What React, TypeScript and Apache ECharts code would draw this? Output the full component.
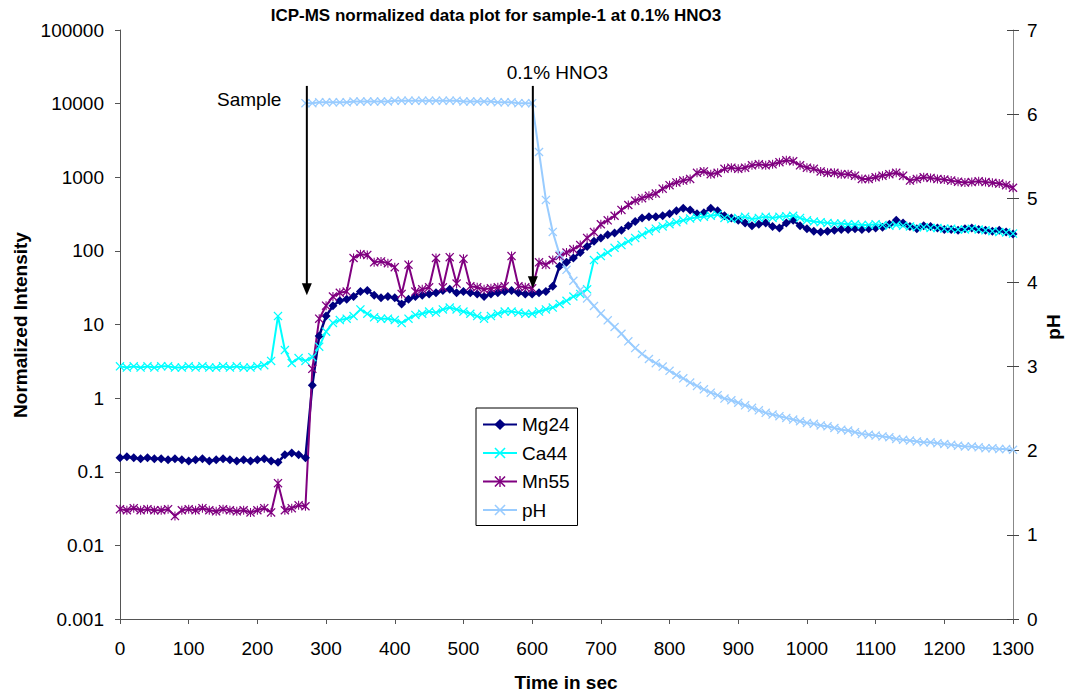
import React, { useEffect, useRef } from "react";
import * as echarts from "echarts";

const TITLE = "ICP-MS normalized data plot for sample-1 at 0.1% HNO3";
const X_NAME = "Time in sec";
const Y_NAME = "Normalized Intensity";
const Y2_NAME = "pH";
const SERIES_NAMES = ["Mg24", "Ca44", "Mn55", "pH"];

const TIMES = [
  0, 10, 20, 30, 40, 50, 60, 70, 80, 90, 100, 110, 120, 130, 140, 150, 160, 170, 180, 190,
  200, 210, 220, 230, 240, 250, 260, 270, 280, 290, 300, 310, 320, 330, 340, 350, 360, 370, 380, 390,
  400, 410, 420, 430, 440, 450, 460, 470, 480, 490, 500, 510, 520, 530, 540, 550, 560, 570, 580, 590,
  600, 610, 620, 630, 640, 650, 660, 670, 680, 690, 700, 710, 720, 730, 740, 750, 760, 770, 780, 790,
  800, 810, 820, 830, 840, 850, 860, 870, 880, 890, 900, 910, 920, 930, 940, 950, 960, 970, 980, 990,
  1000, 1010, 1020, 1030, 1040, 1050, 1060, 1070, 1080, 1090, 1100, 1110, 1120, 1130, 1140, 1150, 1160, 1170, 1180, 1190,
  1200, 1210, 1220, 1230, 1240, 1250, 1260, 1270, 1280, 1290, 1300,
];

const MG24 = [
  0.155, 0.16, 0.155, 0.15, 0.155, 0.15, 0.15, 0.145, 0.15, 0.145, 0.14, 0.145, 0.15, 0.14, 0.145, 0.15, 0.145, 0.14, 0.145, 0.14,
  0.145, 0.15, 0.14, 0.135, 0.17, 0.18, 0.17, 0.155, 1.5, 7, 13, 18, 21, 22, 24, 28, 29, 25, 23, 24,
  23, 19, 22, 24, 25, 26, 27, 29, 30, 27, 28, 27, 26, 24, 26, 27, 28, 29, 27, 26,
  26, 27, 28, 33, 62, 70, 80, 95, 115, 135, 150, 165, 175, 190, 220, 250, 280, 290, 290, 300,
  320, 350, 380, 360, 320, 330, 380, 350, 300, 280, 260, 240, 220, 230, 240, 215, 205, 240, 260, 220,
  200, 185, 180, 185, 190, 195, 195, 200, 195, 200, 205, 210, 230, 260, 240, 215, 200, 220, 215, 205,
  195, 195, 190, 200, 205, 195, 190, 185, 190, 180, 170,
];

const CA44 = [
  2.7, 2.6, 2.7, 2.6, 2.7, 2.6, 2.7, 2.7, 2.6, 2.6, 2.7, 2.6, 2.7, 2.6, 2.6, 2.7, 2.6, 2.7, 2.6, 2.6,
  2.7, 2.8, 3.2, 13, 4.5, 3, 3.5, 3.2, 3.6, 5, 8, 10.5, 11.5, 12, 13, 16, 14, 12.5, 12, 12,
  11.5, 10.5, 12, 13.5, 14, 15, 14.5, 16, 17, 16, 15, 14, 13, 12, 13, 14, 15, 15, 14.5, 14,
  14, 15, 16, 17, 19, 21, 24, 26, 30, 75, 85, 95, 110, 120, 135, 150, 165, 185, 200, 215,
  230, 245, 260, 275, 285, 290, 300, 310, 280, 270, 280, 290, 270, 280, 290, 280, 290, 295, 300, 280,
  260, 250, 245, 240, 235, 235, 230, 230, 225, 225, 230, 225, 220, 225, 220, 215, 210, 210, 205, 205,
  200, 200, 195, 195, 200, 195, 190, 185, 180, 178, 172,
];

const MN55 = [
  0.031, 0.03, 0.032, 0.03, 0.031, 0.03, 0.03, 0.031, 0.025, 0.03, 0.031, 0.03, 0.032, 0.03, 0.029, 0.031, 0.03, 0.029, 0.03, 0.028,
  0.03, 0.032, 0.028, 0.07, 0.03, 0.032, 0.035, 0.034, 2.5, 12, 18, 24, 27, 28, 80, 90, 88, 70, 72, 68,
  60, 26, 65, 28, 30, 32, 80, 32, 82, 36, 78, 33, 32, 30, 31, 32, 33, 85, 33, 32,
  31, 70, 65, 75, 85, 95, 105, 120, 150, 180, 230, 260, 300, 360, 420, 480, 520, 560, 600, 700,
  780, 850, 900, 950, 1150, 1200, 1100, 1150, 1300, 1350, 1300, 1350, 1450, 1500, 1450, 1500, 1600, 1700, 1650, 1450,
  1350, 1300, 1200, 1150, 1150, 1100, 1100, 1050, 950, 950, 1000, 1050, 1100, 1150, 1050, 900, 950, 1000, 980, 950,
  930, 900, 870, 850, 860, 880, 860, 840, 820, 780, 720,
];

const PH = [
  null, null, null, null, null, null, null, null, null, null, null, null, null, null, null, null, null, null, null, null,
  null, null, null, null, null, null, null, 6.13, 6.13, 6.14, 6.14, 6.14, 6.14, 6.14, 6.15, 6.15, 6.15, 6.15, 6.15, 6.15,
  6.16, 6.16, 6.16, 6.16, 6.16, 6.16, 6.16, 6.16, 6.16, 6.16, 6.15, 6.15, 6.15, 6.15, 6.15, 6.14, 6.14, 6.14, 6.13, 6.13,
  6.13, 5.55, 4.98, 4.6, 4.33, 4.15, 4.02, 3.91, 3.81, 3.72, 3.63, 3.55, 3.47, 3.39, 3.3, 3.22, 3.15, 3.09, 3.04, 3.0,
  2.95, 2.9, 2.86, 2.81, 2.77, 2.73, 2.69, 2.66, 2.62, 2.6, 2.57, 2.54, 2.51, 2.48, 2.45, 2.43, 2.41, 2.39, 2.37, 2.35,
  2.33, 2.32, 2.3, 2.29, 2.27, 2.25, 2.24, 2.22, 2.2, 2.19, 2.18, 2.17, 2.16, 2.14, 2.13, 2.12, 2.11, 2.1, 2.1, 2.09,
  2.08, 2.07, 2.06, 2.05, 2.05, 2.04, 2.03, 2.03, 2.02, 2.02, 2.01,
];

// arrow annotations, in data coordinates (time, intensity)
const ANNOTATIONS = [
  { text: "Sample", t: 272, top: 17400, tip: 25, labelT: 235, labelV: 11240, align: "right" },
  { text: "0.1% HNO3", t: 601, top: 17400, tip: 31, labelT: 563, labelV: 26100, align: "left" },
];

const FONT = "'Liberation Sans', Arial, Helvetica, sans-serif";
const X_SYMBOL = "path://M0,1L1,0L5,4L9,0L10,1L6,5L10,9L9,10L5,6L1,10L0,9L4,5Z";
const STAR_SYMBOL =
  "path://M0,1L1,0L5,4L9,0L10,1L6,5L10,9L9,10L5,6L1,10L0,9L4,5Z M4.4,0L5.6,0L5.6,10L4.4,10Z";

function pairs(values: (number | null)[]) {
  const out: [number, number][] = [];
  TIMES.forEach((t, i) => {
    const v = values[i];
    if (v != null) out.push([t, v]);
  });
  return out;
}

export default function App() {
  const ref = useRef<HTMLDivElement>(null);

  useEffect(() => {
    document.body.style.margin = "0";
    const chart = echarts.init(ref.current!, null, { renderer: "svg" });
    const axisColor = "#555";
    const option: any = {
      animation: false,
      backgroundColor: "#fff",
      textStyle: { fontFamily: FONT },
      grid: { left: 120, right: 61, top: 30, bottom: 76, containLabel: false },
      legend: {
        orient: "vertical",
        left: 476,
        top: 408,
        padding: [7, 8, 6, 6],
        itemWidth: 34,
        itemHeight: 14,
        itemGap: 9.5,
        borderColor: "#000",
        borderWidth: 1,
        backgroundColor: "#fff",
        data: SERIES_NAMES,
        textStyle: { fontSize: 19, color: "#000", fontFamily: FONT, lineHeight: 19 },
      },
      xAxis: {
        type: "value",
        min: 0,
        max: 1300,
        interval: 100,
        axisLine: { show: true, lineStyle: { color: axisColor, width: 1 } },
        axisTick: { show: true, length: 5, lineStyle: { color: axisColor } },
        splitLine: { show: false },
        axisLabel: {
          fontSize: 19,
          color: "#000",
          margin: 20,
          fontFamily: FONT,
          formatter: (v: number) => String(v),
        },
      },
      yAxis: [
        {
          type: "log",
          logBase: 10,
          min: 0.001,
          max: 100000,
          splitNumber: 8,
          axisLine: { show: true, lineStyle: { color: axisColor, width: 1 } },
          axisTick: { show: true, length: 5, lineStyle: { color: axisColor } },
          splitLine: { show: false },
          axisLabel: {
            fontSize: 19,
            color: "#000",
            margin: 16,
            fontFamily: FONT,
            formatter: (v: number) => String(Number(v.toPrecision(6))),
          },
        },
        {
          type: "value",
          position: "right",
          min: 0,
          max: 7,
          interval: 1,
          axisLine: { show: true, lineStyle: { color: "#888", width: 1 } },
          axisTick: { show: true, length: 6, lineStyle: { color: "#444" } },
          splitLine: { show: false },
          axisLabel: { fontSize: 19, color: "#000", margin: 14, fontFamily: FONT },
        },
        {
          type: "value",
          position: "right",
          min: 0,
          max: 7,
          interval: 1,
          axisLine: { show: false },
          axisTick: { show: true, inside: true, length: 6, lineStyle: { color: "#444" } },
          splitLine: { show: false },
          axisLabel: { show: false },
        },
      ],
      series: [
        {
          name: SERIES_NAMES[0],
          type: "line",
          yAxisIndex: 0,
          data: pairs(MG24),
          symbol: "diamond",
          symbolSize: 9,
          itemStyle: { color: "#000080" },
          lineStyle: { color: "#000080", width: 2.5 },
        },
        {
          name: SERIES_NAMES[1],
          type: "line",
          yAxisIndex: 0,
          data: pairs(CA44),
          symbol: X_SYMBOL,
          symbolSize: 9,
          itemStyle: { color: "#00FFFF" },
          lineStyle: { color: "#00FFFF", width: 2 },
        },
        {
          name: SERIES_NAMES[2],
          type: "line",
          yAxisIndex: 0,
          data: pairs(MN55),
          symbol: STAR_SYMBOL,
          symbolSize: 9,
          itemStyle: { color: "#800080" },
          lineStyle: { color: "#800080", width: 2 },
        },
        {
          name: SERIES_NAMES[3],
          type: "line",
          yAxisIndex: 1,
          data: pairs(PH),
          symbol: X_SYMBOL,
          symbolSize: 9,
          itemStyle: { color: "#99CCFF" },
          lineStyle: { color: "#99CCFF", width: 2 },
        },
      ],
    };
    chart.setOption(option);

    const graphics: any[] = [
      {
        type: "text",
        x: 496,
        y: 15,
        style: {
          text: TITLE,
          font: `bold 17px ${FONT}`,
          fill: "#000",
          align: "center",
          verticalAlign: "middle",
          textAlign: "center",
          textVerticalAlign: "middle",
        },
      },
      {
        type: "text",
        x: 20,
        y: 325,
        rotation: Math.PI / 2,
        style: {
          text: Y_NAME,
          font: `bold 19px ${FONT}`,
          fill: "#000",
          align: "center",
          verticalAlign: "middle",
          textAlign: "center",
          textVerticalAlign: "middle",
        },
      },
      {
        type: "text",
        x: 1053,
        y: 327,
        rotation: Math.PI / 2,
        style: {
          text: Y2_NAME,
          font: `bold 19px ${FONT}`,
          fill: "#000",
          align: "center",
          verticalAlign: "middle",
          textAlign: "center",
          textVerticalAlign: "middle",
        },
      },
      {
        type: "text",
        x: 566,
        y: 682,
        style: {
          text: X_NAME,
          font: `bold 19px ${FONT}`,
          fill: "#000",
          align: "center",
          verticalAlign: "middle",
          textAlign: "center",
          textVerticalAlign: "middle",
        },
      },
    ];

    ANNOTATIONS.forEach((a) => {
      const top = chart.convertToPixel({ seriesIndex: 0 }, [a.t, a.top]) as number[];
      const tip = chart.convertToPixel({ seriesIndex: 0 }, [a.t, a.tip]) as number[];
      const lbl = chart.convertToPixel({ seriesIndex: 0 }, [a.labelT, a.labelV]) as number[];
      const headH = 12;
      const headW = 5;
      graphics.push({
        type: "line",
        shape: { x1: top[0], y1: top[1], x2: tip[0], y2: tip[1] - headH + 1 },
        style: { stroke: "#000", lineWidth: 2 },
        z: 100,
      });
      graphics.push({
        type: "polygon",
        shape: {
          points: [
            [tip[0] - headW, tip[1] - headH],
            [tip[0] + headW, tip[1] - headH],
            [tip[0], tip[1]],
          ],
        },
        style: { fill: "#000" },
        z: 100,
      });
      graphics.push({
        type: "text",
        x: lbl[0],
        y: lbl[1],
        style: {
          text: a.text,
          font: `19px ${FONT}`,
          fill: "#000",
          align: a.align,
          verticalAlign: "middle",
          textAlign: a.align,
          textVerticalAlign: "middle",
        },
        z: 100,
      });
    });

    chart.setOption({ graphic: graphics });

    return () => chart.dispose();
  }, []);

  return <div ref={ref} style={{ width: 1074, height: 695 }} />;
}
